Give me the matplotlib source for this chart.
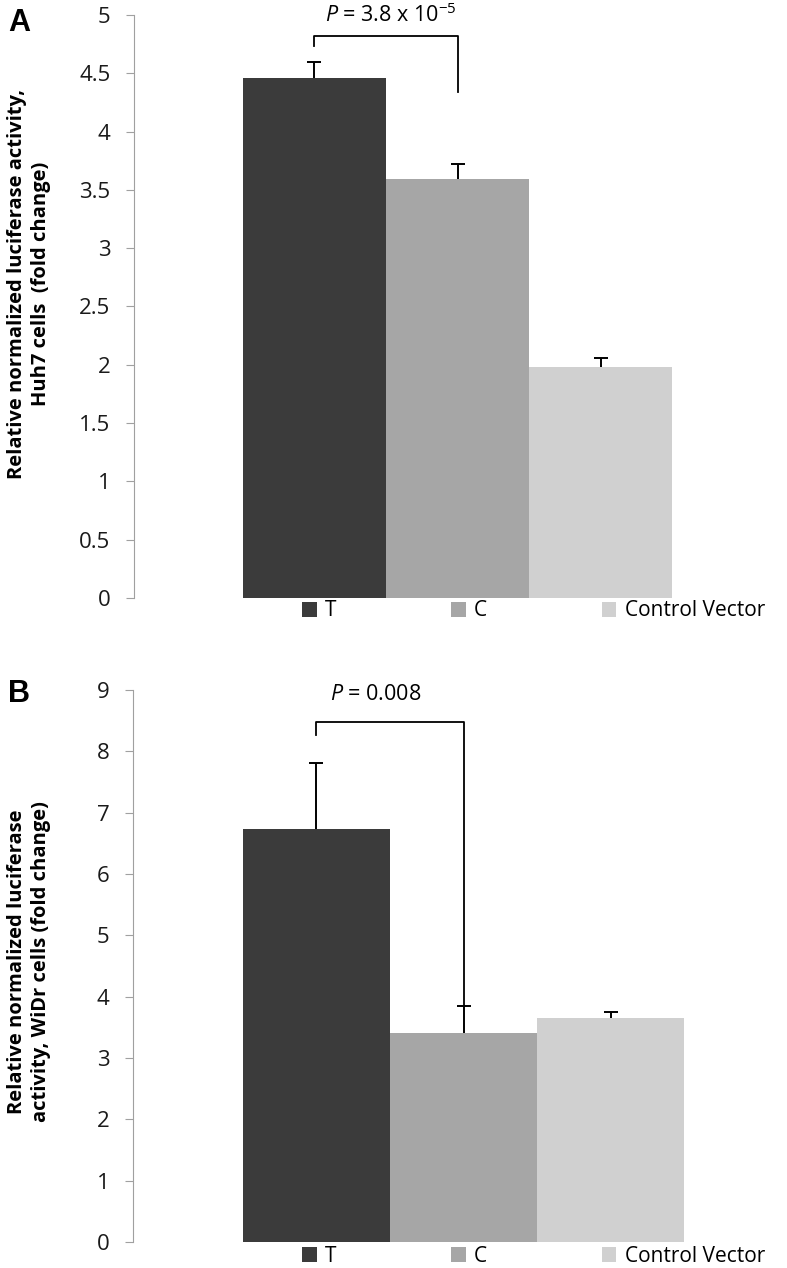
import matplotlib
matplotlib.use("Agg")
import matplotlib.pyplot as plt
import numpy as np

plt.rcParams['font.family'] = ['Open Sans', 'DejaVu Sans']
plt.rcParams['mathtext.fontset'] = 'custom'
plt.rcParams['mathtext.rm'] = 'Open Sans'
plt.rcParams['mathtext.it'] = 'Open Sans:italic'

# data
groups = ["T", "C", "Control Vector"]
colors = ["#3b3b3b", "#a6a6a6", "#d0d0d0"]

huh7_vals = [4.46, 3.59, 1.98]
huh7_err = [0.14, 0.13, 0.08]

widr_vals = [6.74, 3.41, 3.66]
widr_err = [1.07, 0.43, 0.09]

fig = plt.figure(figsize=(7.87, 12.68), dpi=100)

W, H = 787, 1268


def panel(rect, xlim, vals, errs, ymax, step, ylabel, letter, letter_y, bracket, ptext, ptext_xy, leg_y, yl_center):
    ax = fig.add_axes(rect)
    x = np.arange(len(vals))
    bars = ax.bar(x, vals, width=1.0, color=colors, label=groups)
    # upper error bars only, cap on top
    tops = np.array(vals) + np.array(errs)
    ax.vlines(x, vals, tops, color='black', lw=1.4)
    ax.plot(x, tops, ls='none', marker='_', markersize=10, mew=1.4, color='black')
    ax.set_xlim(*xlim)
    ax.set_ylim(0, ymax)
    ticks = np.arange(0, ymax + 0.01, step)
    ax.set_yticks(ticks)
    ax.set_yticklabels(["%g" % t for t in ticks])
    ax.set_xticks([])
    for s in ["top", "right", "bottom"]:
        ax.spines[s].set_visible(False)
    ax.spines["left"].set_color("#a0a0a0")
    ax.tick_params(axis='y', direction='out', length=6, color="#a0a0a0",
                   labelsize=16, pad=11, labelcolor="#1a1a1a")

    # significance bracket
    lb, top, rb = bracket
    ax.plot([0, 0, 1, 1], [lb, top, top, rb], color='black', lw=1.3, clip_on=False)
    ax.text(ptext_xy[0], ptext_xy[1], ptext, ha='center', va='center',
            fontsize=15.5, clip_on=False)

    fig.text(yl_center[0] / W, 1 - yl_center[1] / H, ylabel, rotation=90,
             ha='center', va='center', fontsize=14.5, fontweight='bold',
             multialignment='center', linespacing=1.25)
    fig.text(8 / W, 1 - letter_y / H, letter, fontsize=22, fontweight='bold',
             family='Liberation Sans', va='center', ha='left')

    fig.legend(bars, groups, loc='center left', bbox_to_anchor=(302 / W, 1 - leg_y / H),
               ncol=3, frameon=False, fontsize=15, handlelength=0.7, handleheight=0.7,
               handletextpad=0.4, columnspacing=5.5, borderpad=0, borderaxespad=0)
    return ax


panel([134 / W, 1 - 598 / H, (781 - 134) / W, (598 - 15) / H],
      (-1.262, 3.262), huh7_vals, huh7_err, 5, 0.5,
      "Relative normalized luciferase activity,\nHuh7 cells  (fold change)",
      "A", 23, (4.73, 4.82, 4.34),
      r"$\it{P}$ = 3.8 x 10$^{-5}$", (0.53, 5.0), 611, (29, 284))

panel([133 / W, 1 - 1242 / H, (787 - 133) / W, (1242 - 690) / H],
      (-1.248, 3.20), widr_vals, widr_err, 9, 1,
      "Relative normalized luciferase\nactivity, WiDr cells (fold change)",
      "B", 694, (8.27, 8.48, 3.84),
      r"$\it{P}$ = 0.008", (0.40, 8.92), 1256, (29, 962))

fig.savefig("out.png", dpi=100)
